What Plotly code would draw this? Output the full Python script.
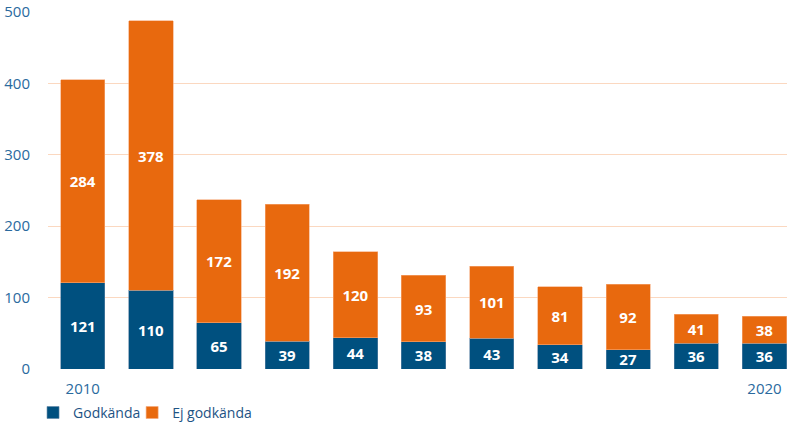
import plotly.graph_objects as go

years = list(range(2010, 2021))
godkanda = [121, 110, 65, 39, 44, 38, 43, 34, 27, 36, 36]
ej_godkanda = [284, 378, 172, 192, 120, 93, 101, 81, 92, 41, 38]
tick_years = [2010, 2020]

blue = '#00507f'
orange = '#e8690e'
text_col = '#2a6a9e'
label_font = dict(color='white', size=15, family='Open Sans', weight='bold')
legend_font = dict(size=14, color='#1d5384')

fig = go.Figure()

fig.add_trace(go.Bar(
    x=years, y=godkanda, name='Godkända', legend='legend',
    marker=dict(color=blue, line=dict(color='#5f86a6', width=0.6)),
    text=godkanda, textposition='inside', insidetextanchor='middle',
    textangle=0, constraintext='none', textfont=label_font,
))

fig.add_trace(go.Bar(
    x=years, y=ej_godkanda, name='Ej godkända', legend='legend2',
    marker=dict(color=orange, line=dict(color='#f5a878', width=0.6)),
    text=ej_godkanda, textposition='inside', insidetextanchor='middle',
    textangle=0, constraintext='none', textfont=label_font,
))

fig.update_layout(
    barmode='stack',
    bargap=0.35,
    width=796, height=427,
    showlegend=True,
    margin=dict(l=48, r=9, t=12, b=58, autoexpand=False),
    plot_bgcolor='white', paper_bgcolor='white',
    font=dict(family='Open Sans', size=14, color=text_col),
    legend=dict(
        orientation='h', xref='container', x=0.0415, xanchor='left',
        yref='container', y=0.033, yanchor='middle',
        font=legend_font, itemwidth=30, bgcolor='rgba(0,0,0,0)',
    ),
    legend2=dict(
        orientation='h', xref='container', x=0.166, xanchor='left',
        yref='container', y=0.033, yanchor='middle',
        font=legend_font, itemwidth=30, bgcolor='rgba(0,0,0,0)',
    ),
)

fig.update_xaxes(
    range=[2009.49, 2020.33],
    tickvals=tick_years, ticktext=[str(y) for y in tick_years],
    showgrid=False, zeroline=False, showline=False, ticks='',
    tickfont=dict(size=15, color=text_col),
    ticklabelstandoff=9, automargin=False,
)
fig.update_yaxes(
    range=[0, 500], dtick=100,
    showgrid=True, gridcolor='#fbd8c0', gridwidth=1,
    zeroline=False, showline=False, ticks='',
    tickfont=dict(size=15, color=text_col),
    ticklabelstandoff=17, automargin=False,
)

# drop the page's default body margin so the figure sits at the window corner
fig.write_html('out.html', config={'displayModeBar': False},
               post_script="document.body.style.margin = '0';")
